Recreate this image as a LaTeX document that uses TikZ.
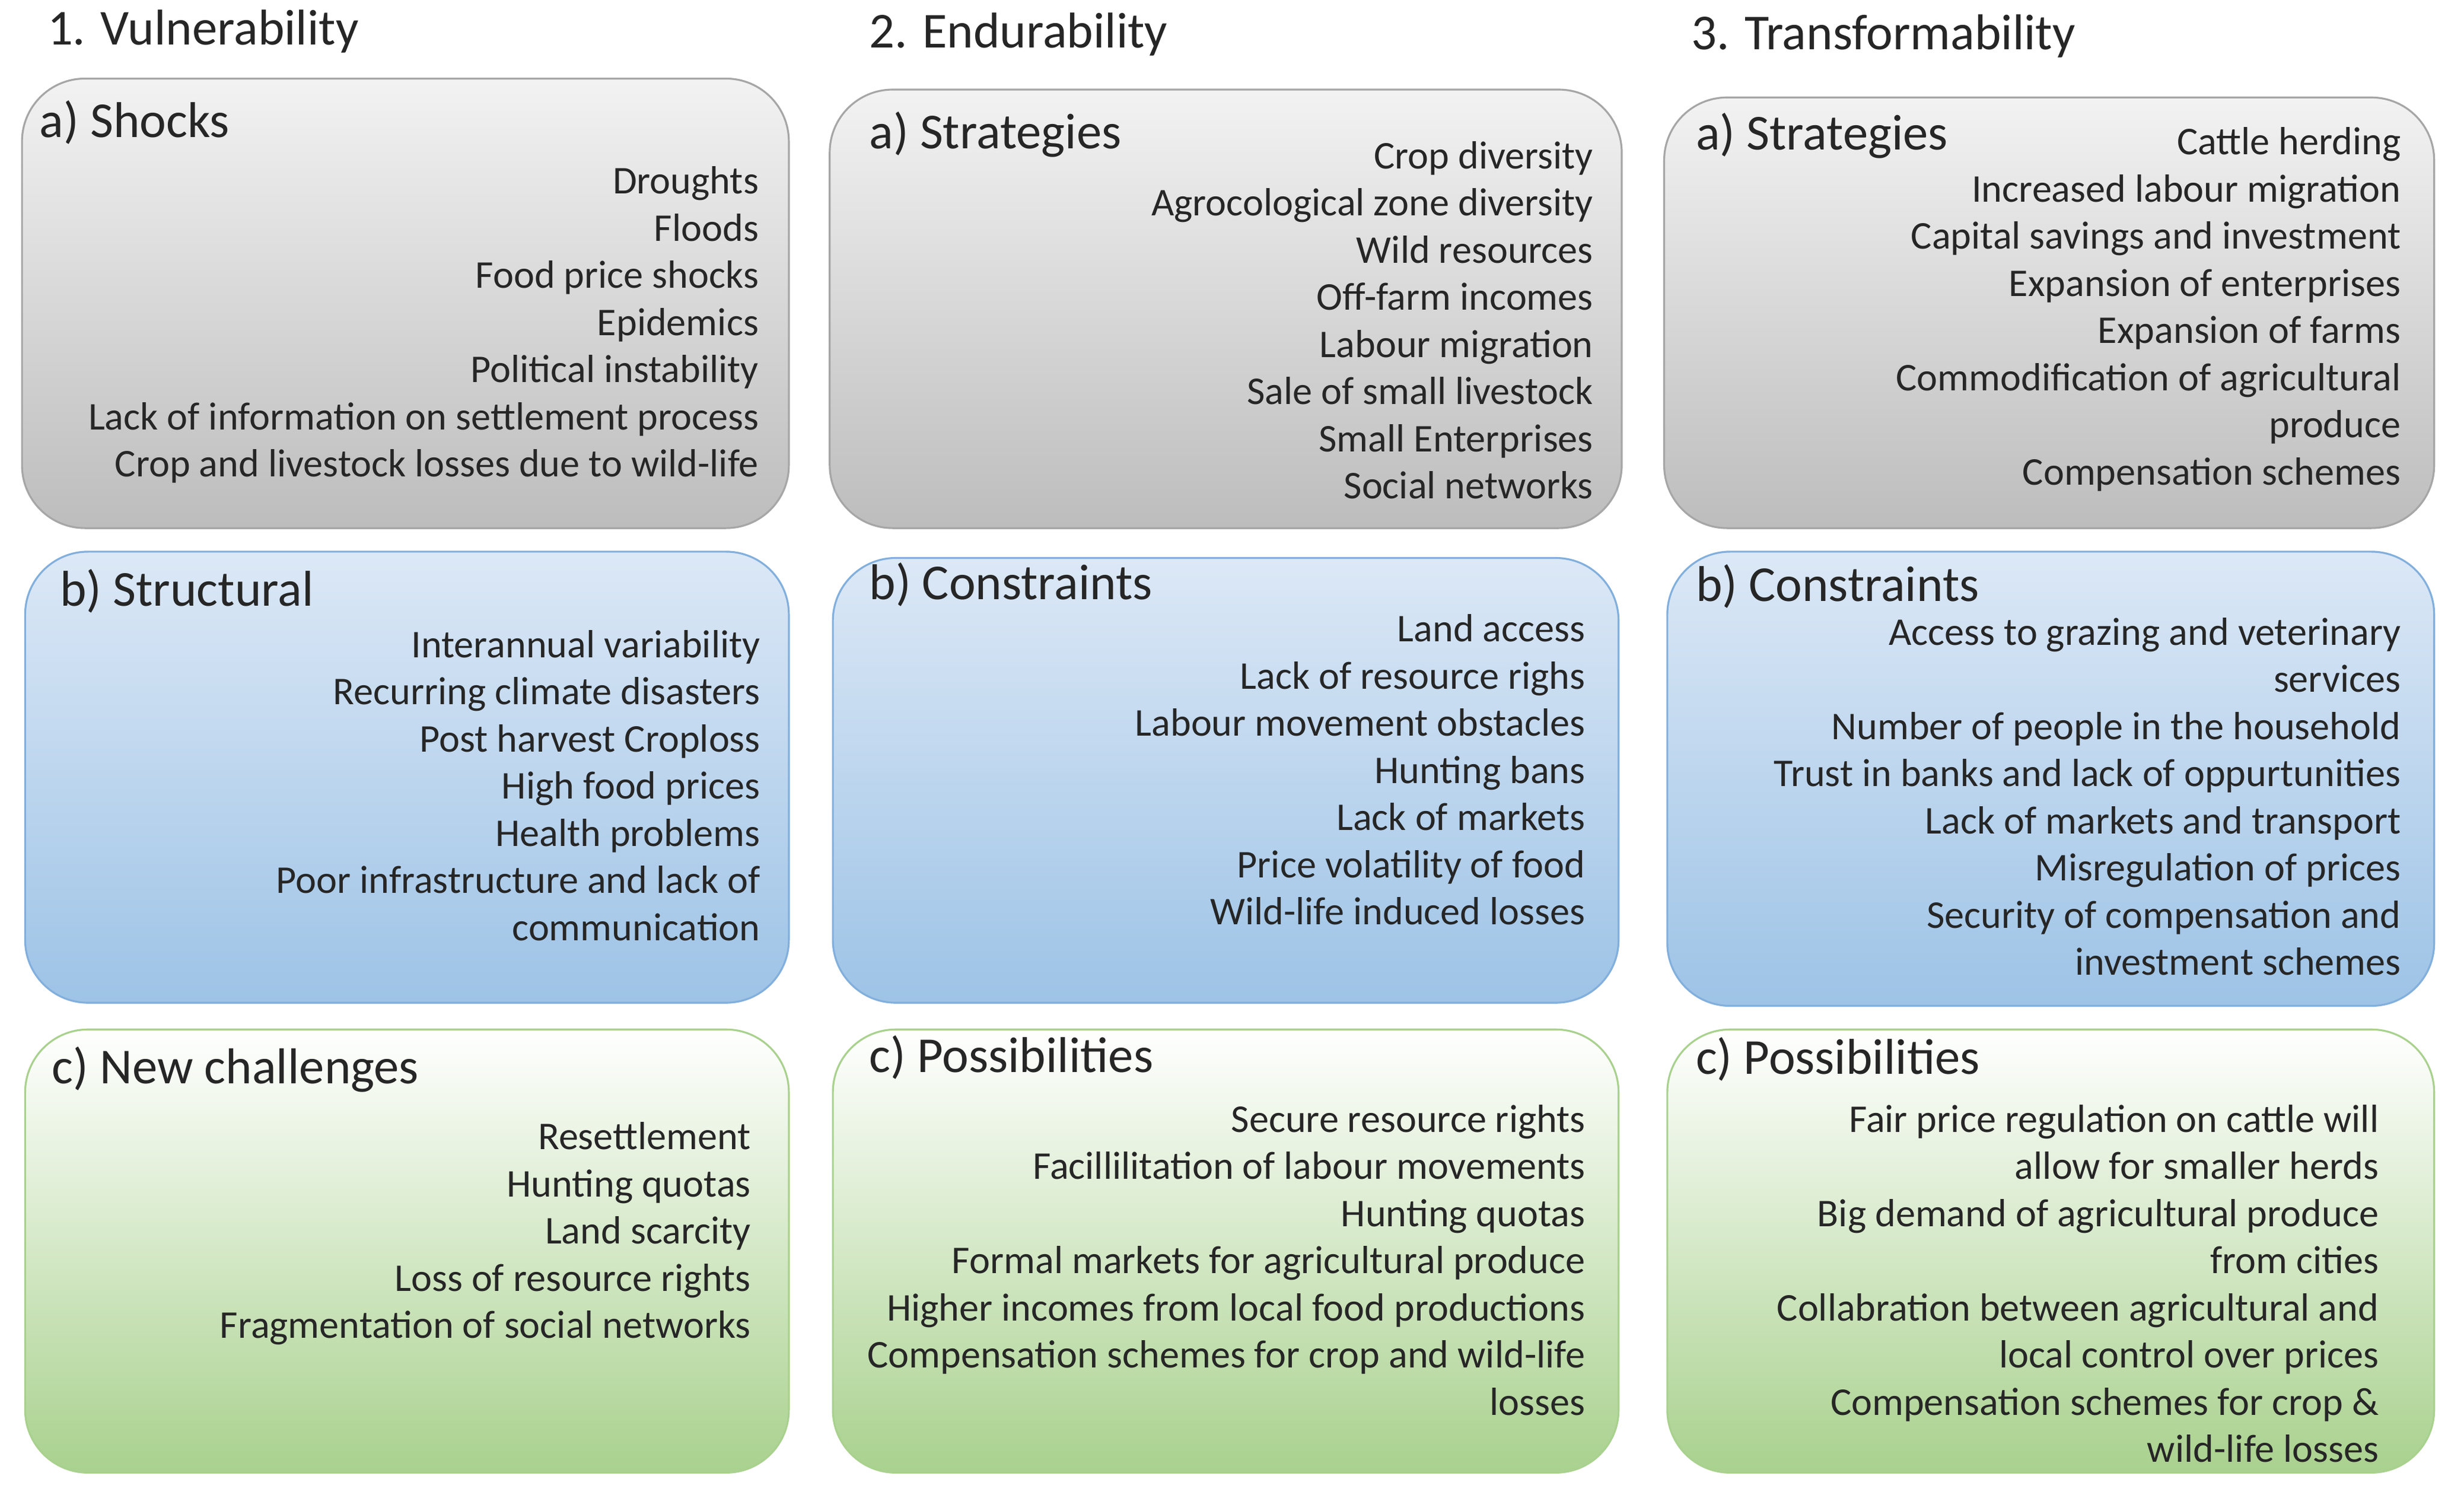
\documentclass[tikz,border=0pt]{standalone}
\usepackage{fontspec}
\setmainfont{Carlito}
\begin{document}
\begin{tikzpicture}[x=1pt,y=-1pt,
  gbox/.style={draw=black!35,line width=1.2pt,rounded corners=40pt,top color=black!5,bottom color=black!26},
  bbox/.style={draw={rgb,255:red,130;green,175;blue,220},line width=1.2pt,rounded corners=40pt,top color={rgb,255:red,220;green,232;blue,246},bottom color={rgb,255:red,157;green,195;blue,230}},
  ebox/.style={draw={rgb,255:red,169;green,209;blue,142},line width=1.2pt,rounded corners=40pt,top color=white,bottom color={rgb,255:red,169;green,209;blue,142}},
  itm/.style={anchor=mid east,inner sep=0pt,font=\fontsize{25}{29}\selectfont,text=black!85},
  hdr/.style={anchor=mid west,inner sep=0pt,font=\fontsize{32}{36}\selectfont,text=black!85},
  ttl/.style={anchor=mid west,inner sep=0pt,font=\fontsize{32}{36}\selectfont,text=black!85}]
\useasboundingbox (0,0) rectangle (1568,951);
\fill[white] (0,0) rectangle (1568,951);
\node[ttl] (t1) at (30,26) {1. Vulnerability};
\node[ttl] (t2) at (553,28) {2. Endurability};
\node[ttl] (t3) at (1076,29) {3. Transformability};
% boxes
\draw[gbox] (14,50) rectangle (502,336);
\draw[bbox] (16,351) rectangle (502,638);
\draw[ebox] (16,655) rectangle (502,937);
\draw[gbox] (528,57) rectangle (1032,336);
\draw[bbox] (530,355) rectangle (1030,638);
\draw[ebox] (530,655) rectangle (1030,937);
\draw[gbox] (1059,62) rectangle (1549,336);
\draw[bbox] (1061,351) rectangle (1549,640);
\draw[ebox] (1061,655) rectangle (1549,937);
% headers
\node[hdr] (h1a) at (25,85) {a) Shocks};
\node[hdr] (h1b) at (38,383) {b) Structural};
\node[hdr] (h1c) at (33,687) {c) New challenges};
\node[hdr] (h2a) at (553,92) {a) Strategies};
\node[hdr] (h2b) at (553,379) {b) Constraints};
\node[hdr] (h2c) at (553,680) {c) Possibilities};
\node[hdr] (h3a) at (1079,93) {a) Strategies};
\node[hdr] (h3b) at (1079,380) {b) Constraints};
\node[hdr] (h3c) at (1079,681) {c) Possibilities};
% items
\foreach \t [count=\i] in {Droughts,Floods,Food price shocks,Epidemics,Political instability,Lack of information on settlement process,Crop and livestock losses due to wild-life}
  \node[itm] (a\i) at (483,{121+(\i-1)*30}) {\t};
\foreach \t [count=\i] in {Interannual variability,Recurring climate disasters,Post harvest Croploss,High food prices,Health problems,Poor infrastructure and lack of,communication}
  \node[itm] (b\i) at (484,{416+(\i-1)*30}) {\t};
\foreach \t [count=\i] in {Resettlement,Hunting quotas,Land scarcity,Loss of resource rights,Fragmentation of social networks}
  \node[itm] (c\i) at (478,{729+(\i-1)*30}) {\t};
\foreach \t [count=\i] in {Crop diversity,Agrocological zone diversity,Wild resources,Off-farm incomes,Labour migration,Sale of small livestock,Small Enterprises,Social networks}
  \node[itm] (d\i) at (1014,{105+(\i-1)*30}) {\t};
\foreach \t [count=\i] in {Land access,Lack of resource righs,Labour movement obstacles,Hunting bans,Lack of markets,Price volatility of food,Wild-life induced losses}
  \node[itm] (e\i) at (1009,{406+(\i-1)*30}) {\t};
\foreach \t [count=\i] in {Secure resource rights,Facillilitation of labour movements,Hunting quotas,Formal markets for agricultural produce,Higher incomes from local food productions,Compensation schemes for crop and wild-life,losses}
  \node[itm] (f\i) at (1009,{718+(\i-1)*30}) {\t};
\foreach \t [count=\i] in {Cattle herding,Increased labour migration,Capital savings and investment,Expansion of enterprises,Expansion of farms,Commodification of agricultural,produce,Compensation schemes}
  \node[itm] (g\i) at (1528,{96+(\i-1)*30}) {\t};
\foreach \t [count=\i] in {Access to grazing and veterinary,services,Number of people in the household,Trust in banks and lack of oppurtunities,Lack of markets and transport,Misregulation of prices,Security of compensation and,investment schemes}
  \node[itm] (h\i) at (1528,{408+(\i-1)*30}) {\t};
\foreach \t [count=\i] in {Fair price regulation on cattle will,allow for smaller herds,Big demand of agricultural produce,from cities,Collabration between agricultural and,local control over prices,Compensation schemes for crop \&,wild-life losses}
  \node[itm] (k\i) at (1514,{718+(\i-1)*30}) {\t};
\end{tikzpicture}
\end{document}
